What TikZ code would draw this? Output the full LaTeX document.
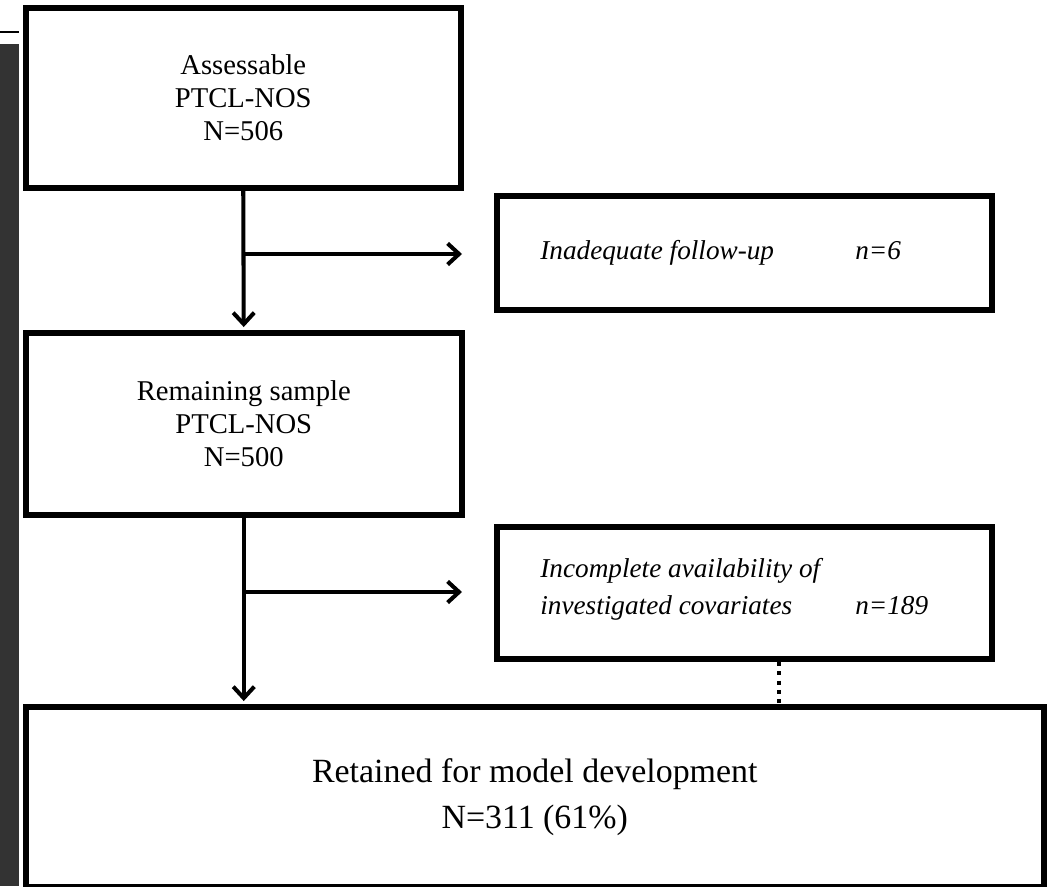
\documentclass[tikz,border=0pt]{standalone}
\usepackage{fontspec}
\setmainfont{Liberation Serif}
\usetikzlibrary{arrows.meta}
\definecolor{sidebar}{RGB}{51,51,51}
\tikzset{
  box/.style={draw, line width=3.4pt, inner sep=0pt, align=center},
  flow/.style={line width=2.3pt, -{Straight Barb[length=6.5pt,width=12pt]}},
  dotline/.style={line width=2.3pt, dash pattern=on 2.3pt off 3pt},
  note/.style={anchor=west, inner sep=0pt, font=\itshape\fontsize{15.5}{21}\selectfont}
}
\begin{document}
\begin{tikzpicture}[x=0.02cm,y=-0.02cm]
\useasboundingbox (0,0) rectangle (1055,886);
\fill[sidebar] (0,44) rectangle (19,886);
\draw[line width=1.2pt] (0,32) -- (19,32);
% main boxes
\node[box, minimum width=8.71cm, minimum height=3.6cm, font=\fontsize{16.3}{18.8}\selectfont] (assess) at (243.25,98) {Assessable\\PTCL-NOS\\N=506};
\node[box, minimum width=8.73cm, minimum height=3.64cm, font=\fontsize{16.3}{18.8}\selectfont] (remain) at (243.75,424) {Remaining sample\\PTCL-NOS\\N=500};
\node[box, minimum width=20.37cm, minimum height=3.6cm, font=\fontsize{19.3}{26}\selectfont] (retain) at (534.75,797) {Retained for model development\\N=311 (61\%)};
% exclusion boxes
\node[box, minimum width=9.9cm, minimum height=2.28cm] (follow) at (744.5,253) {};
\node[box, minimum width=9.9cm, minimum height=2.64cm] (covar) at (744.5,593) {};
\node[note] (followtxt) at (540,252) {\begin{tabular}{@{}p{6.3cm}@{}l@{}}Inadequate follow-up & n=6\end{tabular}};
\node[note] (covartxt) at (540,589) {\begin{tabular}{@{}p{6.3cm}@{}l@{}}Incomplete availability of & \\ investigated covariates & n=189\end{tabular}};
% connectors
\coordinate (tipA) at (462,254);
\coordinate (tipB) at (462,592);
\coordinate (dotx) at (779,0);
\draw[flow, shorten >=1.7pt] (assess.south) -- (remain.north);
\draw[flow] (assess.south |- tipA) -- (tipA);
\draw[flow, shorten >=1.7pt] (remain.south) -- (remain.south |- retain.north);
\draw[flow] (remain.south |- tipB) -- (tipB);
\draw[dotline] (covar.south -| dotx) -- (retain.north -| dotx);
\end{tikzpicture}
\end{document}
